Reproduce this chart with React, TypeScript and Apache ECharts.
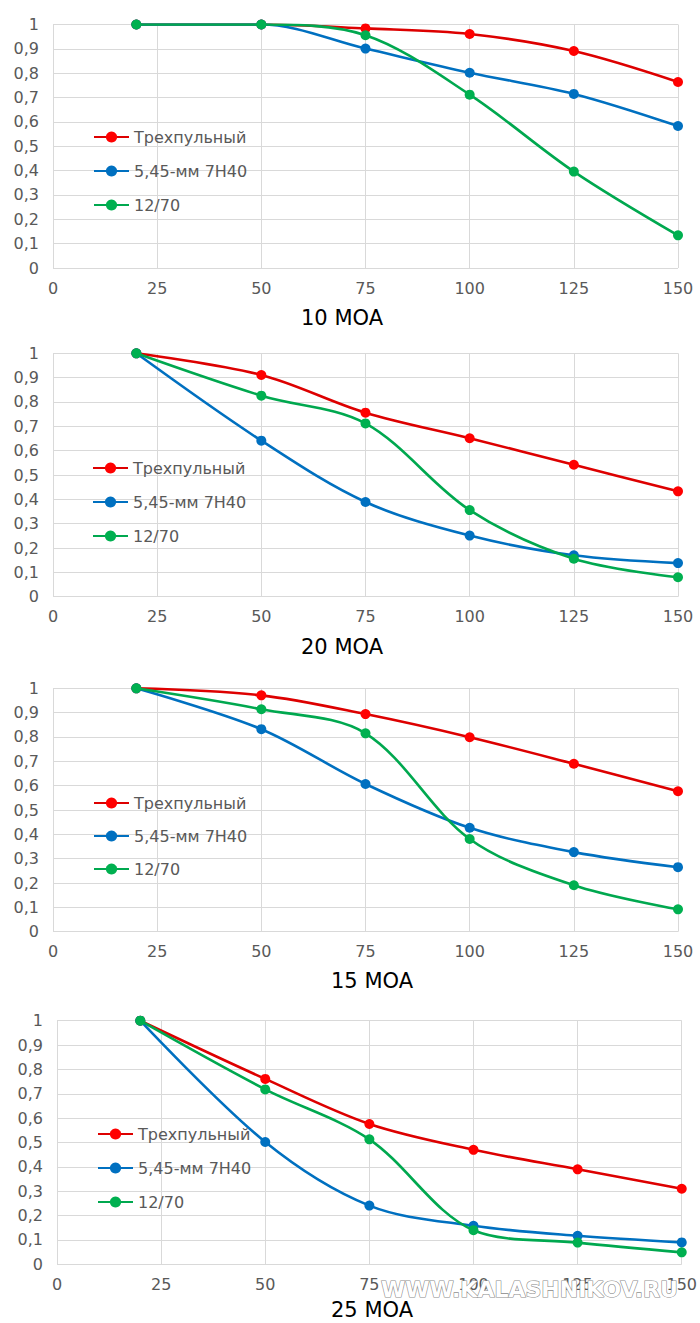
import React, { useEffect, useRef } from "react";
import * as echarts from "echarts";

// Distance (m) at which each hit probability was measured
const distances = [20, 50, 75, 100, 125, 150];
const seriesNames = ["Трехпульный", "5,45-мм 7Н40", "12/70"];
const xTicks = [0, 25, 50, 75, 100, 125, 150];

// 10 MOA
const moa10Triple = [1, 1, 0.984, 0.961, 0.891, 0.764];
const moa10Rifle = [1, 1, 0.901, 0.802, 0.715, 0.583];
const moa10Shotgun = [1, 1, 0.956, 0.712, 0.396, 0.134];
// 20 MOA
const moa20Triple = [1, 0.911, 0.756, 0.651, 0.542, 0.433];
const moa20Rifle = [1, 0.641, 0.389, 0.251, 0.17, 0.138];
const moa20Shotgun = [1, 0.826, 0.712, 0.356, 0.156, 0.08];
// 15 MOA
const moa15Triple = [1, 0.971, 0.894, 0.799, 0.69, 0.577];
const moa15Rifle = [1, 0.832, 0.607, 0.427, 0.327, 0.265];
const moa15Shotgun = [1, 0.914, 0.815, 0.381, 0.191, 0.092];
// 25 MOA
const moa25Triple = [1, 0.761, 0.576, 0.47, 0.39, 0.31];
const moa25Rifle = [1, 0.502, 0.241, 0.158, 0.117, 0.09];
const moa25Shotgun = [1, 0.718, 0.513, 0.14, 0.089, 0.049];

const panelTitles = ["10 MOA", "20 MOA", "15 MOA", "25 MOA"];
const panelData = [
  [moa10Triple, moa10Rifle, moa10Shotgun],
  [moa20Triple, moa20Rifle, moa20Shotgun],
  [moa15Triple, moa15Rifle, moa15Shotgun],
  [moa25Triple, moa25Rifle, moa25Shotgun],
];

// Layout of the four stacked panels
const layout = [
  { left: 53, right: 22, top: 24.5, height: 243.5, titleX: 342, titleY: 318, legendLeft: 93, legendTop: 129, legendGap: 18 },
  { left: 53, right: 22, top: 353.3, height: 243.4, titleX: 342, titleY: 647, legendLeft: 92, legendTop: 460, legendGap: 18 },
  { left: 53, right: 22, top: 688.3, height: 243.4, titleX: 372, titleY: 981, legendLeft: 93, legendTop: 795, legendGap: 17 },
  { left: 57, right: 18, top: 1020.7, height: 243.6, titleX: 372, titleY: 1310, legendLeft: 97, legendTop: 1126, legendGap: 18 },
];

const lineColors = ["#DD0000", "#0070C0", "#00A84F"];
const markerColors = ["#FF0000", "#0070C0", "#00B050"];
const FONT = "DejaVu Sans";
const LABEL_COLOR = "#595959";
const GRID_COLOR = "#D9D9D9";

export default function App() {
  const ref = useRef<HTMLDivElement>(null);

  useEffect(() => {
    if (!ref.current) return;
    const chart = echarts.init(ref.current, undefined, { renderer: "svg" });

    const grid = layout.map((l) => ({ left: l.left, right: l.right, top: l.top, height: l.height }));

    const xAxis = layout.map((_, i) => ({
      type: "value",
      gridIndex: i,
      min: xTicks[0],
      max: xTicks[xTicks.length - 1],
      interval: xTicks[1] - xTicks[0],
      axisLine: { show: false },
      axisTick: { show: false },
      axisLabel: { color: LABEL_COLOR, fontSize: 16, fontFamily: FONT, margin: 12 },
      splitLine: { show: true, lineStyle: { color: GRID_COLOR, width: 1 } },
    }));

    const yAxis = layout.map((_, i) => ({
      type: "value",
      gridIndex: i,
      min: 0,
      max: 1,
      interval: 0.1,
      axisLine: { show: false },
      axisTick: { show: false },
      axisLabel: {
        color: LABEL_COLOR,
        fontSize: 16,
        fontFamily: FONT,
        margin: 14,
        formatter: (v: number) => String(Math.round(v * 10) / 10).replace(".", ","),
      },
      splitLine: { show: true, lineStyle: { color: GRID_COLOR, width: 1 } },
    }));

    const series: any[] = [];
    panelData.forEach((group, p) => {
      group.forEach((values, s) => {
        series.push({
          type: "line",
          name: seriesNames[s],
          xAxisIndex: p,
          yAxisIndex: p,
          data: distances.map((d, k) => [d, values[k]]),
          smooth: 0.33,
          symbol: "circle",
          symbolSize: 10,
          lineStyle: { color: lineColors[s], width: 2.6 },
          itemStyle: { color: markerColors[s] },
          z: 2 + s,
        });
      });
    });

    const legend = layout.map((l) => ({
      data: seriesNames,
      orient: "vertical",
      left: l.legendLeft,
      top: l.legendTop,
      padding: 0,
      itemGap: l.legendGap,
      itemWidth: 35,
      itemHeight: 14,
      selectedMode: false,
      textStyle: { color: LABEL_COLOR, fontSize: 16, fontFamily: FONT, lineHeight: 16 },
    }));

    const graphic: any[] = layout.map((l, i) => ({
      type: "text",
      x: l.titleX,
      y: l.titleY,
      style: {
        text: panelTitles[i],
        fill: "#000",
        font: `21px '${FONT}'`,
        textAlign: "center",
        textVerticalAlign: "middle",
      },
    }));

    // Site watermark in outlined lettering across the last panel's axis
    graphic.push({
      type: "text",
      x: 381,
      y: 1289,
      z: 100,
      style: {
        text: "WWW.KALASHNIKOV.RU",
        fill: "#ffffff",
        stroke: "#8a8a8a",
        lineWidth: 1.2,
        font: `bold 22px '${FONT}'`,
        textAlign: "left",
        textVerticalAlign: "middle",
      },
    });

    chart.setOption({
      animation: false,
      backgroundColor: "#ffffff",
      grid,
      xAxis,
      yAxis,
      series,
      legend,
      graphic,
    });

    return () => chart.dispose();
  }, []);

  return (
    <div
      ref={ref}
      style={{ position: "absolute", left: 0, top: 0, width: 700, height: 1323, background: "#fff" }}
    />
  );
}
